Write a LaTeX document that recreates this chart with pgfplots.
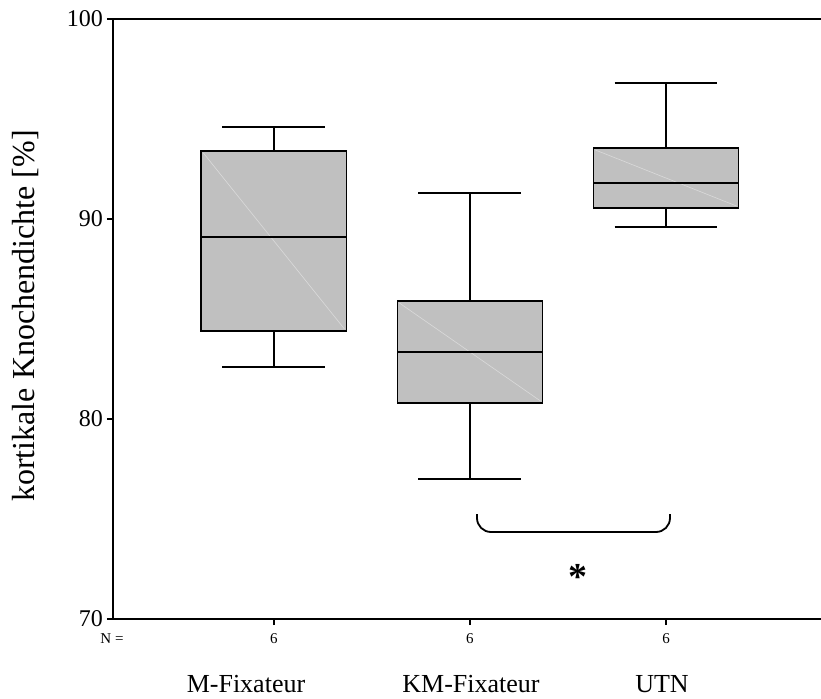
\documentclass[border=0pt]{standalone}
\usepackage{fontspec}
\setmainfont{Liberation Serif}
\usepackage{pgfplots}
\pgfplotsset{compat=1.18}
\definecolor{boxgray}{HTML}{C0C0C0}
\definecolor{diaggray}{HTML}{DADADA}
\begin{document}
\begin{tikzpicture}
\begin{axis}[
  at={(0pt,0pt)}, anchor=south west,
  scale only axis, width=354pt, height=300pt,
  xmin=0.179, xmax=3.791, ymin=70, ymax=100,
  axis x line*=box, axis y line*=left,
  axis line style={line width=1pt, black},
  xtick={1,2,3}, xticklabels={}, xtick pos=bottom, ytick pos=left,
  ytick={70,80,90,100},
  tick align=outside, major tick length=3pt,
  tick style={line width=0.8pt, black},
  yticklabel style={font=\fontsize{12}{14}\selectfont, xshift=1.5pt},
  /pgf/number format/assume math mode=true,
  clip=false,
  every axis plot/.append style={line width=0.9pt},
]
% --- M-Fixateur: LW 82.6, Q1 84.4, Med 89.1, Q3 93.4, UW 94.6
\addplot[fill=boxgray, draw=none] coordinates {(0.63,84.4) (1.37,84.4) (1.37,93.4) (0.63,93.4)} --cycle;
\addplot[draw=diaggray, line width=0.3pt] coordinates {(0.64,93.3) (1.36,84.5)};
\addplot[draw=black] coordinates {(0.63,84.4) (1.37,84.4) (1.37,93.4) (0.63,93.4)} --cycle;
\addplot[draw=black] coordinates {(0.63,89.1) (1.37,89.1)};
\addplot[draw=black] coordinates {(1,93.4) (1,94.6)};
\addplot[draw=black] coordinates {(0.7375,94.6) (1.2625,94.6)};
\addplot[draw=black] coordinates {(1,84.4) (1,82.6)};
\addplot[draw=black] coordinates {(0.7375,82.6) (1.2625,82.6)};
% --- KM-Fixateur: LW 77.0, Q1 80.8, Med 83.35, Q3 85.9, UW 91.3
\addplot[fill=boxgray, draw=none] coordinates {(1.63,80.8) (2.37,80.8) (2.37,85.9) (1.63,85.9)} --cycle;
\addplot[draw=diaggray, line width=0.3pt] coordinates {(1.64,85.8) (2.36,80.9)};
\addplot[draw=black] coordinates {(1.63,80.8) (2.37,80.8) (2.37,85.9) (1.63,85.9)} --cycle;
\addplot[draw=black] coordinates {(1.63,83.35) (2.37,83.35)};
\addplot[draw=black] coordinates {(2,85.9) (2,91.3)};
\addplot[draw=black] coordinates {(1.7375,91.3) (2.2625,91.3)};
\addplot[draw=black] coordinates {(2,80.8) (2,77.0)};
\addplot[draw=black] coordinates {(1.7375,77.0) (2.2625,77.0)};
% --- UTN: LW 89.6, Q1 90.55, Med 91.8, Q3 93.55, UW 96.8
\addplot[fill=boxgray, draw=none] coordinates {(2.63,90.55) (3.37,90.55) (3.37,93.55) (2.63,93.55)} --cycle;
\addplot[draw=diaggray, line width=0.3pt] coordinates {(2.64,93.45) (3.36,90.65)};
\addplot[draw=black] coordinates {(2.63,90.55) (3.37,90.55) (3.37,93.55) (2.63,93.55)} --cycle;
\addplot[draw=black] coordinates {(2.63,91.8) (3.37,91.8)};
\addplot[draw=black] coordinates {(3,93.55) (3,96.8)};
\addplot[draw=black] coordinates {(2.7375,96.8) (3.2625,96.8)};
\addplot[draw=black] coordinates {(3,90.55) (3,89.6)};
\addplot[draw=black] coordinates {(2.7375,89.6) (3.2625,89.6)};
\end{axis}
% annotations (image px X,Y -> ((X-113)/2, (619-Y)/2) pt)
\draw[line width=0.9pt, rounded corners=7pt] (182pt,52.5pt) -- (182pt,43.5pt) -- (278.5pt,43.5pt) -- (278.5pt,52.5pt);
\node[inner sep=0pt, anchor=base, font=\fontsize{19}{22}\selectfont\bfseries] at (232.5pt,15pt) {*};
\node[rotate=90, inner sep=0pt, anchor=base, font=\fontsize{16}{18}\selectfont] at (-39pt,151.5pt) {kortikale Knochendichte [\%]};
\node[inner sep=0pt, anchor=base, font=\fontsize{7.5}{9}\selectfont] at (-0.5pt,-12pt) {N =};
\node[inner sep=0pt, anchor=base, font=\fontsize{7.5}{9}\selectfont] at (80.5pt,-12pt) {6};
\node[inner sep=0pt, anchor=base, font=\fontsize{7.5}{9}\selectfont] at (178.5pt,-12pt) {6};
\node[inner sep=0pt, anchor=base, font=\fontsize{7.5}{9}\selectfont] at (276.5pt,-12pt) {6};
\node[inner sep=0pt, anchor=base, font=\fontsize{13}{15}\selectfont] at (66.5pt,-36.5pt) {M-Fixateur};
\node[inner sep=0pt, anchor=base, font=\fontsize{13}{15}\selectfont] at (179pt,-36.5pt) {KM-Fixateur};
\node[inner sep=0pt, anchor=base, font=\fontsize{13}{15}\selectfont] at (274.5pt,-36.5pt) {UTN};
\pgfresetboundingbox
\path (-56.5pt,-39.5pt) rectangle (354pt,309.5pt);
\end{tikzpicture}
\end{document}
